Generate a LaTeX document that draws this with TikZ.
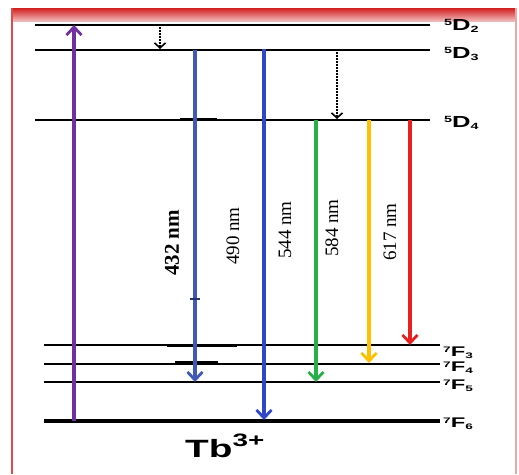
\documentclass[tikz,border=0pt]{standalone}
\usepackage{fontspec}
\setmainfont{Liberation Serif}
\newfontfamily\lsans{Liberation Sans}
\usetikzlibrary{arrows.meta}
\definecolor{cpurple}{RGB}{112,48,160}
\definecolor{cblueA}{RGB}{64,88,184}
\definecolor{cblueB}{RGB}{48,72,200}
\definecolor{cgreen}{RGB}{40,176,72}
\definecolor{cyellow}{RGB}{255,192,0}
\definecolor{cred}{RGB}{232,32,32}
\definecolor{cframe}{RGB}{210,30,30}
\newcommand\dlab[1]{\scalebox{1.6}[1]{\raisebox{5pt}{\fontsize{9}{9}\selectfont 5}D\raisebox{-2pt}{\fontsize{9}{9}\selectfont #1}}}
\newcommand\flab[1]{\scalebox{1.7}[1]{\raisebox{3.5pt}{\fontsize{8}{8}\selectfont 7}F\raisebox{-2pt}{\fontsize{8}{8}\selectfont #1}}}
\tikzset{
  level/.style={draw=black, line width=1.6pt},
  tick/.style={draw=black, line width=2.4pt},
  trans/.style={line width=3.4pt, -{Straight Barb[length=8pt,width=15pt,line width=2.8pt]}},
  relax/.style={line width=1.8pt, dash pattern=on 1.6pt off 1.4pt, -{Straight Barb[length=5pt,width=11pt,line width=1.6pt]}},
  dlabel/.style={anchor=base west, inner sep=0pt, font=\lsans\bfseries\fontsize{16}{16}\selectfont},
  flabel/.style={anchor=base west, inner sep=0pt, font=\lsans\bfseries\fontsize{14}{14}\selectfont},
  nmlabel/.style={rotate=90, inner sep=0pt, font=\fontsize{19}{19}\selectfont}
}
\begin{document}
\begin{tikzpicture}[x=1pt,y=-1pt]
\useasboundingbox (0,0) rectangle (519,474);
\fill[white] (0,0) rectangle (519,474);
% frame
\shade[top color=cframe, bottom color=cframe!30] (12,8) rectangle (516,21);
\draw[cframe!80, line width=1.2pt] (12,8) -- (12,474);
\draw[cframe!40, line width=1.2pt] (516,8) -- (516,474);
% levels
\coordinate (d2l) at (35,25);  \coordinate (d2r) at (430,25);
\coordinate (d3l) at (35,50);  \coordinate (d3r) at (430,50);
\coordinate (d4l) at (35,120); \coordinate (d4r) at (430,120);
\coordinate (f3l) at (44,345); \coordinate (f3r) at (440,345);
\coordinate (f4l) at (44,364); \coordinate (f4r) at (440,364);
\coordinate (f5l) at (44,382); \coordinate (f5r) at (440,382);
\coordinate (f6l) at (44,421); \coordinate (f6r) at (440,421);
\draw[level] (d2l) -- (d2r);
\draw[level] (d3l) -- (d3r);
\draw[level] (d4l) -- (d4r);
\draw[level] (f3l) -- (f3r);
\draw[level] (f4l) -- (f4r);
\draw[level] (f5l) -- (f5r);
\draw[draw=black, line width=4.5pt] (f6l) -- (f6r);
% level labels
\node[dlabel] (ld2) at (444,30) {\dlab{2}};
\node[dlabel] (ld3) at (444,58) {\dlab{3}};
\node[dlabel] (ld4) at (444,127) {\dlab{4}};
\node[flabel] (lf3) at (443,356) {\flab{3}};
\node[flabel] (lf4) at (443,371) {\flab{4}};
\node[flabel] (lf5) at (443,389) {\flab{5}};
\node[flabel] (lf6) at (443,427) {\flab{6}};
% short thick ticks
\coordinate (t1a) at (180,119); \coordinate (t1b) at (217,119);
\coordinate (t2a) at (167,346); \coordinate (t2b) at (237,346);
\coordinate (t3a) at (175,362); \coordinate (t3b) at (218,362);
\draw[tick] (t1a) -- (t1b);
\draw[tick] (t2a) -- (t2b);
\draw[tick] (t3a) -- (t3b);
% transition endpoints
\coordinate (pu0) at (74,421); \coordinate (pu1) at (74,25);
\coordinate (r10) at (160,27); \coordinate (r11) at (160,49);
\coordinate (b10) at (195,50); \coordinate (b11) at (195,382);
\coordinate (b20) at (264,49); \coordinate (b21) at (264,420);
\coordinate (g0) at (316,120); \coordinate (g1) at (316,382);
\coordinate (r20) at (337,52); \coordinate (r21) at (337,119);
\coordinate (y0) at (369,120); \coordinate (y1) at (369,363);
\coordinate (rd0) at (410,120); \coordinate (rd1) at (410,345);
\draw[trans, cpurple] (pu0) -- (pu1);
\draw[relax] (r10) -- (r11);
\draw[relax] (r20) -- (r21);
\draw[trans, cblueA] (b10) -- (b11);
\draw[trans, cblueB] (b20) -- (b21);
\draw[trans, cgreen] (g0) -- (g1);
\draw[trans, cyellow] (y0) -- (y1);
\draw[trans, cred] (rd0) -- (rd1);
% small marks on 432 line
\coordinate (m1a) at (190,299); \coordinate (m1b) at (200,299);
\draw[cblueA!60!black, line width=1.2pt] (m1a) -- (m1b);
% wavelength labels
\node[nmlabel, font=\bfseries\fontsize{21}{21}\selectfont] (n432) at (172,243) {432 nm};
\node[nmlabel] (n490) at (233,236) {490 nm};
\node[nmlabel] (n544) at (285,230) {544 nm};
\node[nmlabel] (n584) at (332,228) {584 nm};
\node[nmlabel] (n617) at (390,232) {617 nm};
% ion label
\node[font=\lsans\bfseries\fontsize{25}{25}\selectfont, inner sep=0pt, anchor=base west] (tb) at (185,457) {\scalebox{1.55}[1]{Tb\raisebox{11pt}{\fontsize{18}{18}\selectfont 3+}}};
\end{tikzpicture}
\end{document}
